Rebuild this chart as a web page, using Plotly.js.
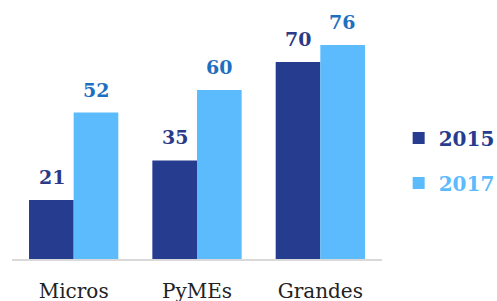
<!DOCTYPE html>
<html>
<head>
<meta charset="utf-8">
<script src="https://cdn.plot.ly/plotly-3.0.1.min.js"></script>
<style>html,body{margin:0;padding:0;background:#fff;}#chart{width:497px;height:301px;}</style>
</head>
<body>
<div id="chart"></div>
<script>
const categories = ["Micros", "PyMEs", "Grandes"];
const series2015 = [21, 35, 70];
const series2017 = [52, 60, 76];
const seriesNames = ["2015", "2017"];

const c2015 = "#253C8F";
const c2017 = "#5CBBFD";
const label2015 = "#2A3A88";
const label2017 = "#1E6FC2";
const serif = "DejaVu Serif, Liberation Serif, serif";

const traces = [
  {
    type: "bar", x: categories, y: series2015,
    name: '<span style="color:' + c2015 + '">' + seriesNames[0] + '</span>',
    legendgroup: "a",
    marker: {color: c2015}
  },
  {
    type: "bar", x: categories, y: series2017,
    name: '<span style="color:' + c2017 + '">' + seriesNames[1] + '</span>',
    legendgroup: "b",
    marker: {color: c2017}
  }
];

function labels(vals, shift, color) {
  return categories.map((c, i) => ({
    x: c, y: vals[i], xref: "x", yref: "y",
    text: String(vals[i]), showarrow: false,
    xanchor: "center", yanchor: "bottom",
    xshift: shift, yshift: 10,
    font: {family: serif, size: 19, color: color, weight: "bold"}
  }));
}

const layout = {
  width: 497, height: 301,
  margin: {l: 12, r: 115, t: 0, b: 42, autoexpand: false},
  barmode: "group", bargap: 0.276, bargroupgap: 0,
  paper_bgcolor: "#fff", plot_bgcolor: "#fff",
  xaxis: {
    showline: true, linecolor: "#D9D9D9", linewidth: 1.5,
    ticks: "", tickfont: {family: serif, size: 20, color: "#222"},
    ticklabelstandoff: 13,
    showgrid: false, zeroline: false
  },
  yaxis: {
    range: [0, 92], visible: false, showgrid: false, zeroline: false
  },
  annotations: labels(series2015, -22, label2015).concat(labels(series2017, 22, label2017)),
  showlegend: true,
  legend: {
    x: 1.318, xanchor: "right", y: 0.38, yanchor: "middle",
    font: {family: serif, size: 20, weight: "bold"},
    tracegroupgap: 16, itemwidth: 30
  },
  font: {family: serif}
};

Plotly.newPlot("chart", traces, layout, {displayModeBar: false, staticPlot: true});
</script>
</body>
</html>
